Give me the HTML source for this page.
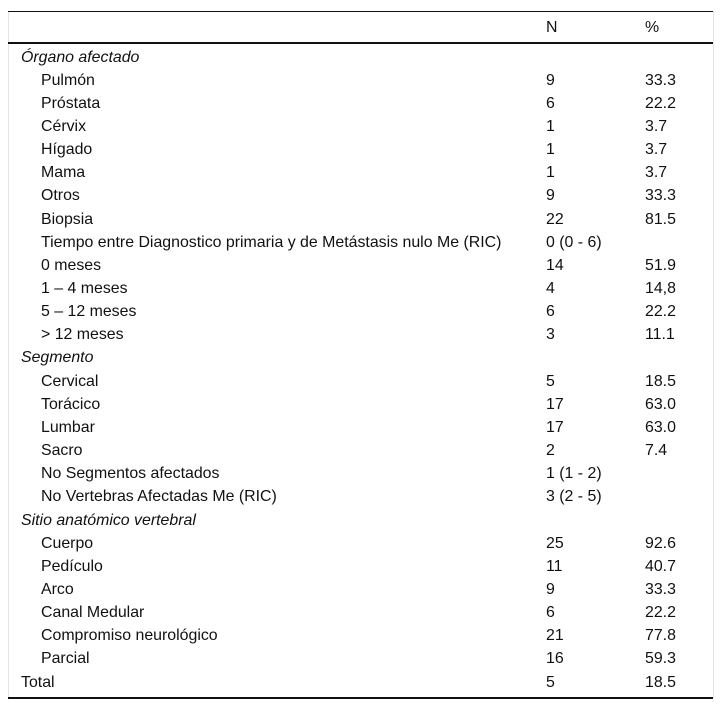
<!DOCTYPE html>
<html><head><meta charset="utf-8"><style>
body{margin:0;width:721px;height:710px;background:#fff;font-family:"Liberation Sans",Arial,sans-serif;font-size:15.9px;color:#111;position:relative;overflow:hidden}
.l{position:absolute;left:8px;width:705px;background:#111}
.r{position:absolute;left:0;width:721px;height:20px;line-height:20px;white-space:nowrap}
.r span{position:absolute}
.a{left:21px}.b{left:41px}.n{left:546px}.p{left:645px}
i{font-style:italic}
.frame{position:absolute;left:8px;top:11px;width:704px;height:687px;border-left:1px solid #e4e4e4;border-right:1px solid #e4e4e4}
</style></head><body>
<div class="frame"></div>
<div class="l" style="top:11px;height:1px"></div>
<div class="l" style="top:42px;height:2px"></div>
<div class="l" style="top:697px;height:2px"></div>
<div class="r" style="top:18px"><span class="n">N</span><span class="p">%</span></div>
<div id="rows"></div>
<script>
var d=[["a","<i>Órgano afectado</i>","",""],["b","Pulmón","9","33.3"],["b","Próstata","6","22.2"],["b","Cérvix","1","3.7"],["b","Hígado","1","3.7"],["b","Mama","1","3.7"],["b","Otros","9","33.3"],["b","Biopsia","22","81.5"],["b","Tiempo entre Diagnostico primaria y de Metástasis nulo Me (RIC)","0 (0 - 6)",""],["b","0 meses","14","51.9"],["b","1 – 4 meses","4","14,8"],["b","5 – 12 meses","6","22.2"],["b","&gt; 12 meses","3","11.1"],["a","<i>Segmento</i>","",""],["b","Cervical","5","18.5"],["b","Torácico","17","63.0"],["b","Lumbar","17","63.0"],["b","Sacro","2","7.4"],["b","No Segmentos afectados","1 (1 - 2)",""],["b","No Vertebras Afectadas Me (RIC)","3 (2 - 5)",""],["a","<i>Sitio anatómico vertebral</i>","",""],["b","Cuerpo","25","92.6"],["b","Pedículo","11","40.7"],["b","Arco","9","33.3"],["b","Canal Medular","6","22.2"],["b","Compromiso neurológico","21","77.8"],["b","Parcial","16","59.3"],["a","Total","5","18.5"]];
var h="";d.forEach(function(r,i){var t=47.5+i*23.15;h+='<div class="r" style="top:'+t.toFixed(1)+'px"><span class="'+r[0]+'">'+r[1]+'</span><span class="n">'+r[2]+'</span><span class="p">'+r[3]+'</span></div>';});
document.getElementById("rows").innerHTML=h;
</script>
</body></html>
